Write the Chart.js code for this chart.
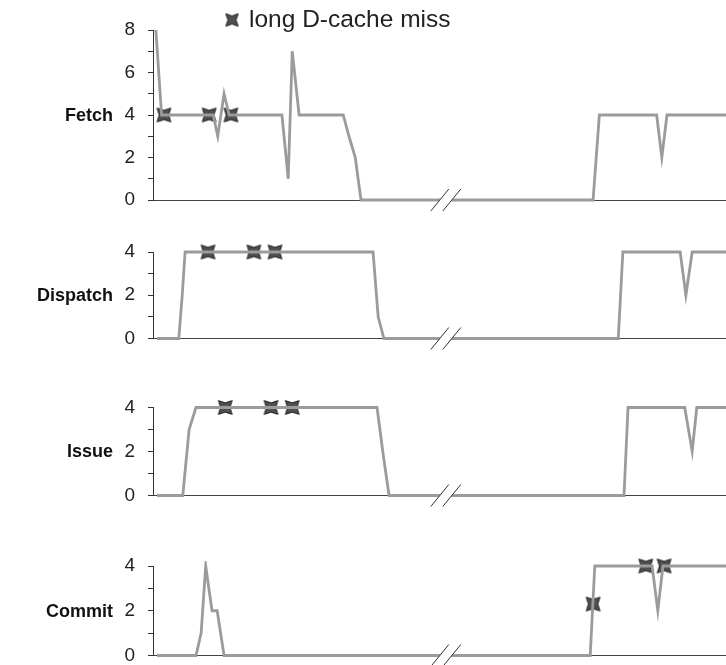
<!DOCTYPE html>
<html>
<head>
<meta charset="utf-8">
<title>Pipeline stage activity</title>
<script src="https://cdn.jsdelivr.net/npm/chart.js@4.4.1/dist/chart.umd.min.js"></script>
<style>
  body { margin: 0; background: #fff; }
  #wrap { position: relative; width: 726px; height: 665px; }
  #wrap canvas { position: absolute; left: 0; }
</style>
</head>
<body>
<div id="wrap">
  <canvas id="fetch" width="726" height="215" style="top:0"></canvas>
  <canvas id="dispatch" width="726" height="140" style="top:215px"></canvas>
  <canvas id="issue" width="726" height="155" style="top:355px"></canvas>
  <canvas id="commit" width="726" height="155" style="top:510px"></canvas>
</div>
<script>
// corner points of each trace: cycle (x) and instructions per cycle (y)
const fetchCycles = [0.5, 1.5, 10.5, 11.3, 12.4, 13.3, 22.5, 23.6, 24.3, 25.5, 33.2, 34.2, 35.3, 36.3, 76.8, 77.9, 87.9, 88.8, 89.7, 100];
const fetchWidth  = [8,   4,   4,    3,    5,    4,    4,    1,    7,    4,    4,    3,    2,    0,    0,    4,    4,    2,    4,    4];

const dispatchCycles = [0.7, 4.5, 5.1, 5.6, 38.4, 39.3, 40.3, 81.2, 82.0, 92.0, 93.0, 94.1, 100];
const dispatchWidth  = [0,   0,   2,   4,   4,    1,    0,    0,    4,    4,    2,    4,    4];

const issueCycles = [0.7, 5.2, 6.3, 7.5, 39.1, 40.1, 41.2, 82.2, 82.9, 92.8, 94.1, 94.9, 100];
const issueWidth  = [0,   0,   3,   4,   4,    2,    0,    0,    4,    4,    2,    4,    4];

const commitCycles = [0.7, 7.5, 8.4, 9.2, 10.3, 11.2, 12.4, 76.3, 77.1, 87.1, 88.1, 89.0, 100];
const commitWidth  = [0,   0,   1,   4,   2,    2,    0,    0,    4,    4,    2,    4,    4];

// long D-cache misses
const fetchMissCycles = [1.9, 9.8, 13.6];
const fetchMissWidth  = [4, 4, 4];
const dispatchMissCycles = [9.6, 17.6, 21.3];
const dispatchMissWidth  = [4, 4, 4];
const issueMissCycles = [12.6, 20.6, 24.3];
const issueMissWidth  = [4, 4, 4];
const commitMissCycles = [76.8, 86.0, 89.2];
const commitMissWidth  = [2.3, 4, 4];

const stageNames = ['Fetch', 'Dispatch', 'Issue', 'Commit'];
const legendText = 'long D-cache miss';
const breakCycle = 51.1;

Chart.defaults.font.family = '"Liberation Sans", Arial, sans-serif';

const zip = (xs, ys) => xs.map((x, i) => ({ x: x, y: ys[i] }));

// four-pointed star marker, points on the diagonals
function makeStar(size, inner) {
  const c = document.createElement('canvas');
  c.width = size;
  c.height = size;
  const g = c.getContext('2d');
  const m = size / 2, R = size / 2 - 0.8, r = R * inner;
  g.beginPath();
  for (let k = 0; k < 8; k++) {
    const a = Math.PI / 4 + k * Math.PI / 4;
    const rad = k % 2 === 0 ? R : r;
    const px = m + rad * Math.cos(a), py = m + rad * Math.sin(a);
    if (k === 0) g.moveTo(px, py); else g.lineTo(px, py);
  }
  g.closePath();
  g.fillStyle = '#505050';
  g.fill();
  g.strokeStyle = '#1a1a1a';
  g.lineWidth = 1;
  g.stroke();
  return c;
}
const starIcon = makeStar(21, 0.48);
const legendStar = makeStar(19, 0.46);

// bold stage name to the left of the tick labels
const stageLabel = {
  id: 'stageLabel',
  afterDraw(chart, args, opts) {
    const ctx = chart.ctx;
    const y = chart.scales.y.getPixelForValue(opts.value);
    ctx.save();
    ctx.font = 'bold 18px "Liberation Sans", Arial, sans-serif';
    ctx.fillStyle = '#111';
    ctx.textAlign = 'right';
    ctx.textBaseline = 'middle';
    ctx.fillText(opts.text, 113, y + 1);
    ctx.restore();
  }
};

// "//" break on the time axis
const axisBreak = {
  id: 'axisBreak',
  afterDatasetsDraw(chart, args, opts) {
    const ctx = chart.ctx;
    const cx = chart.scales.x.getPixelForValue(opts.at);
    const yb = chart.chartArea.bottom;
    ctx.save();
    ctx.beginPath();
    ctx.moveTo(cx - 15, yb + 11);
    ctx.lineTo(cx + 3, yb - 11);
    ctx.lineTo(cx + 15, yb - 11);
    ctx.lineTo(cx - 3, yb + 11);
    ctx.closePath();
    ctx.fillStyle = '#fff';
    ctx.fill();
    ctx.beginPath();
    ctx.moveTo(cx - 15, yb + 11);
    ctx.lineTo(cx + 3, yb - 11);
    ctx.moveTo(cx - 3, yb + 11);
    ctx.lineTo(cx + 15, yb - 11);
    ctx.strokeStyle = '#333';
    ctx.lineWidth = 1;
    ctx.stroke();
    ctx.restore();
  }
};

// legend entry above the first panel
const missLegend = {
  id: 'missLegend',
  afterDraw(chart, args, opts) {
    if (!opts.show) return;
    const ctx = chart.ctx;
    ctx.save();
    ctx.drawImage(legendStar, 232 - legendStar.width / 2, 20 - legendStar.height / 2);
    ctx.font = '24.5px "Liberation Sans", Arial, sans-serif';
    ctx.fillStyle = '#222';
    ctx.textBaseline = 'alphabetic';
    ctx.fillText(legendText, 249, 27);
    ctx.restore();
  }
};

function makePanel(id, cfg) {
  return new Chart(document.getElementById(id), {
    type: 'line',
    data: {
      datasets: [
        {
          data: zip(cfg.cycles, cfg.values),
          borderColor: '#9b9b9b',
          borderWidth: 2.8,
          pointRadius: 0,
          tension: 0,
          clip: { left: 5, top: 5, right: 0, bottom: 5 }
        },
        {
          label: legendText,
          data: zip(cfg.missCycles, cfg.missValues),
          showLine: false,
          pointStyle: starIcon,
          pointRadius: 8,
          clip: false
        }
      ]
    },
    options: {
      responsive: false,
      devicePixelRatio: 1,
      animation: false,
      events: [],
      layout: { autoPadding: false, padding: { top: cfg.padTop, bottom: cfg.padBottom, left: 0, right: 0 } },
      plugins: {
        legend: { display: false },
        tooltip: { enabled: false },
        stageLabel: { text: cfg.name, value: cfg.labelAt },
        axisBreak: { at: breakCycle },
        missLegend: { show: !!cfg.legend }
      },
      scales: {
        x: {
          type: 'linear',
          min: 0,
          max: 100,
          ticks: { display: false },
          grid: { display: false },
          border: { color: '#444', width: 1 },
          afterFit: s => { s.height = 0; }
        },
        y: {
          min: 0,
          max: cfg.max,
          ticks: {
            stepSize: 1,
            autoSkip: false,
            padding: 13,
            color: '#222',
            font: { size: 19 },
            callback: v => (v % 2 === 0 ? v : '')
          },
          grid: { drawOnChartArea: false, tickLength: 5, color: '#333' },
          border: { color: '#333', width: 1 },
          afterFit: s => { s.width = 153; s.paddingTop = 0; s.paddingBottom = 0; }
        }
      }
    },
    plugins: [stageLabel, axisBreak, missLegend]
  });
}

makePanel('fetch', {
  name: stageNames[0], labelAt: 4, max: 8, padTop: 30, padBottom: 15, legend: true,
  cycles: fetchCycles, values: fetchWidth, missCycles: fetchMissCycles, missValues: fetchMissWidth
});
makePanel('dispatch', {
  name: stageNames[1], labelAt: 2, max: 4, padTop: 37, padBottom: 16.5,
  cycles: dispatchCycles, values: dispatchWidth, missCycles: dispatchMissCycles, missValues: dispatchMissWidth
});
makePanel('issue', {
  name: stageNames[2], labelAt: 2, max: 4, padTop: 52.5, padBottom: 14.5,
  cycles: issueCycles, values: issueWidth, missCycles: issueMissCycles, missValues: issueMissWidth
});
makePanel('commit', {
  name: stageNames[3], labelAt: 2, max: 4, padTop: 56, padBottom: 9.5,
  cycles: commitCycles, values: commitWidth, missCycles: commitMissCycles, missValues: commitMissWidth
});
</script>
</body>
</html>
